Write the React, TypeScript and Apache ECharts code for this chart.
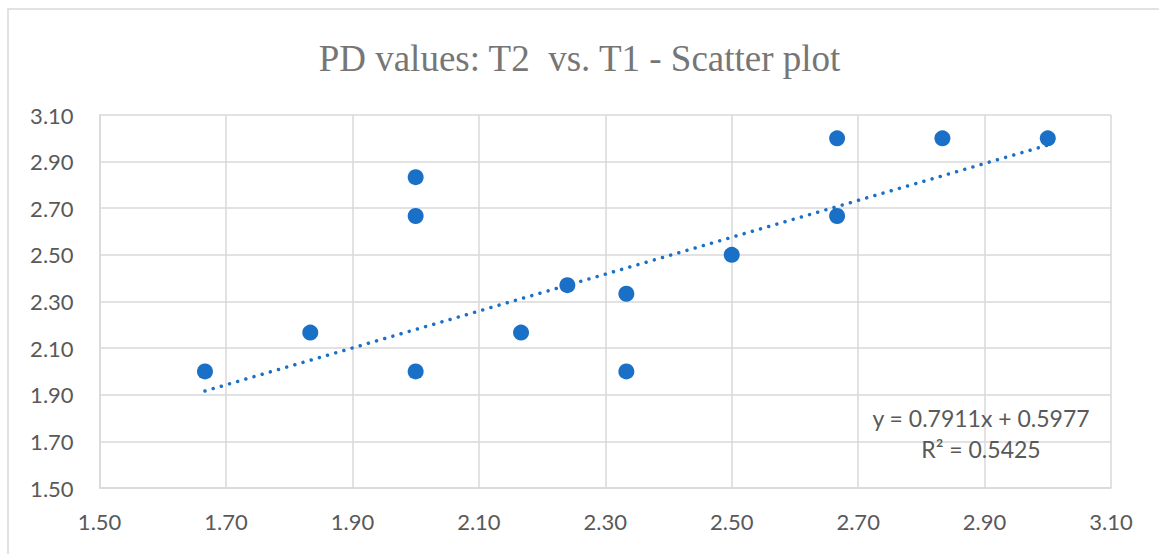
import React, { useEffect, useRef } from "react";
import * as echarts from "echarts";

const T1 = [1.6667, 1.8333, 2.0, 2.0, 2.0, 2.1667, 2.24, 2.3333, 2.3333, 2.5, 2.6667, 2.6667, 2.8333, 3.0];
const T2 = [2.0, 2.1667, 2.8333, 2.6667, 2.0, 2.1667, 2.37, 2.3333, 2.0, 2.5, 2.6667, 3.0, 3.0, 3.0];
const SLOPE = 0.7911;
const INTERCEPT = 0.5977;
const R2 = 0.5425;
const TREND_X = [1.6667, 3.0];

const BLUE = "#1a70c6";
const GRAY = "#595959";
const GRID = "#d9d9d9";

export default function App() {
  const ref = useRef<HTMLDivElement>(null);
  useEffect(() => {
    if (!ref.current) return;
    const chart = echarts.init(ref.current, undefined, { renderer: "svg" });
    const points = T1.map((x, i) => [x, T2[i]]);
    const trend = TREND_X.map((x) => [x, SLOPE * x + INTERCEPT]);
    chart.setOption({
      animation: false,
      backgroundColor: "#ffffff",
      title: {
        text: "PD values: T2  vs. T1 - Scatter plot",
        left: "center",
        top: 35,
        textStyle: {
          fontFamily: "Liberation Serif",
          fontSize: 37,
          fontWeight: "normal",
          color: "#767676",
        },
      },
      grid: { left: 99.6, right: 48, top: 115, bottom: 66 },
      xAxis: {
        type: "value",
        min: 1.5,
        max: 3.1,
        interval: 0.2,
        axisLine: { show: true, lineStyle: { color: GRID, width: 1.5 } },
        axisTick: { show: false },
        splitLine: { show: true, lineStyle: { color: GRID, width: 1.5 } },
        axisLabel: {
          formatter: (v: number) => v.toFixed(2),
          fontFamily: "Lato",
          fontSize: 22,
          color: GRAY,
          margin: 22,
        },
      },
      yAxis: {
        type: "value",
        min: 1.5,
        max: 3.1,
        interval: 0.2,
        axisLine: { show: true, lineStyle: { color: GRID, width: 1.5 } },
        axisTick: { show: false },
        splitLine: { show: true, lineStyle: { color: GRID, width: 1.5 } },
        axisLabel: {
          formatter: (v: number) => v.toFixed(2),
          fontFamily: "Lato",
          fontSize: 22,
          color: GRAY,
          margin: 26,
        },
      },
      series: [
        {
          type: "line",
          data: trend,
          showSymbol: false,
          symbol: "none",
          lineStyle: { color: BLUE, width: 3.5, type: [0.01, 8.5], cap: "round" },
          z: 3,
        },
        {
          type: "scatter",
          data: points,
          symbolSize: 16,
          itemStyle: { color: BLUE, opacity: 1 },
          z: 4,
        },
      ],
      graphic: [
        {
          type: "rect",
          shape: { x: 8, y: 9, width: 1170, height: 570 },
          style: { fill: "none", stroke: GRID, lineWidth: 1.5 },
          silent: true,
        },
        {
          type: "text",
          x: 981,
          y: 418,
          style: {
            text: `y = ${SLOPE}x + ${INTERCEPT}`,
            fontFamily: "Lato",
            fontSize: 23,
            fill: GRAY,
            align: "center",
            verticalAlign: "middle",
          },
          z: 10,
        },
        {
          type: "text",
          x: 981,
          y: 449,
          style: {
            text: `R² = ${R2}`,
            fontFamily: "Lato",
            fontSize: 23,
            fill: GRAY,
            align: "center",
            verticalAlign: "middle",
          },
          z: 10,
        },
      ],
    });
    return () => chart.dispose();
  }, []);
  return (
    <div
      ref={ref}
      style={{ position: "fixed", left: 0, top: 0, width: 1159, height: 554 }}
    />
  );
}
